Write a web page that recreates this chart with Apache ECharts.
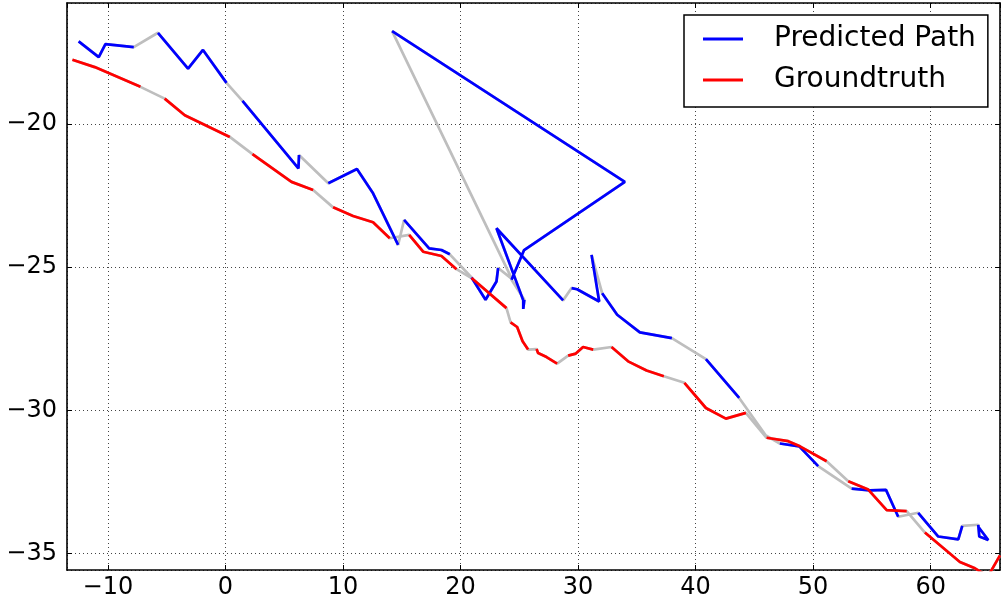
<!DOCTYPE html>
<html>
<head>
<meta charset="utf-8">
<script src="https://cdn.jsdelivr.net/npm/echarts@6/dist/echarts.min.js"></script>
<style>
  html, body { margin: 0; padding: 0; background: #fff; }
  #chart { width: 1005px; height: 600px; }
</style>
</head>
<body>
<div id="chart"></div>
<script>
// predicted path (x, y), one flag per segment: 1 = drawn grey
const predX = [-12.49, -10.78, -10.21, -7.80, -5.74, -3.18, -1.91, 0.09, 1.45, 6.21, 6.26, 8.75, 11.19, 12.56, 14.69, 15.20, 17.33, 18.38, 19.09, 20.94, 22.13, 23.06, 23.20, 24.37, 14.18, 33.98, 25.41, 24.34, 25.43, 25.34, 25.34, 23.06, 28.73, 29.45, 29.92, 31.80, 31.15, 32.05, 33.33, 35.26, 37.98, 40.88, 43.71, 45.98, 47.17, 48.82, 50.43, 53.28, 54.83, 56.20, 57.24, 58.94, 60.65, 62.35, 62.69, 64.05, 64.14, 64.90, 64.05];
const predY = [-17.11, -17.66, -17.21, -17.31, -16.81, -18.06, -17.41, -18.56, -19.19, -21.55, -21.08, -22.07, -21.57, -22.42, -24.22, -23.35, -24.34, -24.40, -24.55, -25.36, -26.14, -25.50, -25.03, -25.41, -16.75, -22.02, -24.40, -25.44, -26.14, -26.46, -26.16, -23.64, -26.16, -25.73, -25.77, -26.20, -24.57, -25.91, -26.66, -27.28, -27.48, -28.21, -29.57, -30.88, -31.16, -31.26, -31.95, -32.74, -32.80, -32.78, -33.72, -33.58, -34.41, -34.51, -34.04, -34.00, -34.41, -34.53, -34.07];
const predGray = [0, 0, 0, 1, 0, 0, 0, 1, 0, 0, 1, 0, 0, 0, 1, 0, 0, 0, 1, 0, 0, 0, 1, 1, 0, 0, 0, 1, 0, 0, 0, 0, 1, 0, 0, 0, 1, 0, 0, 0, 1, 0, 1, 1, 0, 0, 1, 0, 0, 0, 1, 0, 0, 0, 1, 0, 0, 0];

// groundtruth path
const truthX = [-13.02, -11.12, -7.23, -5.17, -3.46, 0.37, 2.30, 5.62, 7.46, 9.16, 10.86, 12.56, 13.98, 15.63, 16.82, 18.38, 19.66, 20.94, 23.91, 24.26, 24.82, 25.28, 25.75, 26.47, 26.60, 27.32, 28.22, 29.16, 29.81, 30.43, 31.29, 32.85, 34.26, 35.83, 37.30, 39.05, 40.88, 42.58, 44.28, 46.04, 47.88, 48.88, 51.15, 52.99, 54.69, 56.26, 57.96, 59.51, 62.49, 63.77, 64.88, 65.90];
const truthY = [-17.75, -18.01, -18.70, -19.11, -19.69, -20.45, -21.05, -22.02, -22.30, -22.91, -23.21, -23.43, -23.99, -23.87, -24.46, -24.61, -25.07, -25.38, -26.43, -26.93, -27.09, -27.59, -27.88, -27.86, -28.00, -28.14, -28.37, -28.09, -28.02, -27.79, -27.88, -27.79, -28.29, -28.61, -28.81, -29.04, -29.92, -30.29, -30.09, -30.96, -31.08, -31.26, -31.78, -32.48, -32.77, -33.49, -33.52, -34.27, -35.30, -35.52, -35.80, -35.07];
const truthGray = [0, 0, 1, 0, 0, 1, 0, 0, 1, 0, 0, 0, 1, 0, 0, 0, 1, 0, 1, 0, 0, 0, 1, 0, 0, 0, 1, 0, 0, 0, 1, 0, 0, 0, 1, 0, 0, 0, 1, 0, 0, 0, 1, 0, 0, 0, 1, 0, 0, 0, 0];

const seriesNames = ["Predicted Path", "Groundtruth"];

const xRange = [-13.48, 65.9];
const yRange = [-35.58, -15.77];

// whole path, drawn grey underneath
function fullPath(xs, ys) {
  return xs.map((x, i) => [x, ys[i]]);
}

// only the coloured segments, broken by nulls
function colouredPath(xs, ys, gray) {
  const out = [];
  for (let i = 0; i < gray.length; i++) {
    if (gray[i]) continue;
    if (i === 0 || gray[i - 1]) {
      if (out.length) out.push([null, null]);
      out.push([xs[i], ys[i]]);
    }
    out.push([xs[i + 1], ys[i + 1]]);
  }
  return out;
}

const minus = (v) => (v < 0 ? "\u2212" + Math.abs(v) : String(v));
const font = "DejaVu Sans";

const chart = echarts.init(document.getElementById("chart"));

const axisLine = { show: true, onZero: false, lineStyle: { color: "#000", width: 1.6 } };
const tick = { show: true, inside: true, length: 5, lineStyle: { color: "#000", width: 1 } };
const grid = { show: true, lineStyle: { color: "#444", width: 1, type: [1, 3] } };
const lineW = 2.7;

const option = {
  animation: false,
  grid: { left: 67, right: 5, top: 3, bottom: 29 },
  legend: {
    data: seriesNames,
    orient: "vertical",
    left: 684,
    top: 15,
    backgroundColor: "#fff",
    borderColor: "#000",
    borderWidth: 1.5,
    borderRadius: 0,
    padding: [9, 12, 12, 19],
    itemGap: 11,
    itemWidth: 40,
    itemHeight: 3,
    icon: "rect",
    textStyle: {
      fontFamily: font,
      fontSize: 28,
      color: "#000",
      lineHeight: 30,
      padding: [0, 0, 0, 26],
    },
  },
  xAxis: [
    {
      type: "value",
      min: xRange[0],
      max: xRange[1],
      splitNumber: 8,
      axisLine: axisLine,
      axisTick: tick,
      splitLine: grid,
      axisLabel: {
        fontFamily: font,
        fontSize: 24,
        color: "#000",
        margin: 6,
        showMinLabel: false,
        showMaxLabel: false,
        formatter: minus,
      },
    },
    {
      type: "value",
      position: "top",
      min: xRange[0],
      max: xRange[1],
      splitNumber: 8,
      axisLine: axisLine,
      axisTick: tick,
      splitLine: { show: false },
      axisLabel: { show: false },
    },
  ],
  yAxis: [
    {
      type: "value",
      min: yRange[0],
      max: yRange[1],
      splitNumber: 4,
      axisLine: axisLine,
      axisTick: tick,
      splitLine: grid,
      axisLabel: {
        fontFamily: font,
        fontSize: 24,
        color: "#000",
        margin: 10,
        showMinLabel: false,
        showMaxLabel: false,
        formatter: minus,
      },
    },
    {
      type: "value",
      position: "right",
      min: yRange[0],
      max: yRange[1],
      splitNumber: 4,
      axisLine: axisLine,
      axisTick: tick,
      splitLine: { show: false },
      axisLabel: { show: false },
    },
  ],
  series: [
    {
      name: "pred-gray",
      type: "line",
      data: fullPath(predX, predY),
      showSymbol: false,
      symbol: "none",
      lineStyle: { color: "#bebebe", width: lineW },
      z: 2,
    },
    {
      name: "truth-gray",
      type: "line",
      data: fullPath(truthX, truthY),
      showSymbol: false,
      symbol: "none",
      lineStyle: { color: "#bebebe", width: lineW },
      z: 2,
    },
    {
      name: seriesNames[0],
      type: "line",
      data: colouredPath(predX, predY, predGray),
      showSymbol: false,
      symbol: "none",
      itemStyle: { color: "#0000ff" },
      lineStyle: { color: "#0000ff", width: lineW },
      z: 3,
    },
    {
      name: seriesNames[1],
      type: "line",
      data: colouredPath(truthX, truthY, truthGray),
      showSymbol: false,
      symbol: "none",
      itemStyle: { color: "#ff0000" },
      lineStyle: { color: "#ff0000", width: lineW },
      z: 4,
    },
  ],
};

chart.setOption(option);
</script>
</body>
</html>
